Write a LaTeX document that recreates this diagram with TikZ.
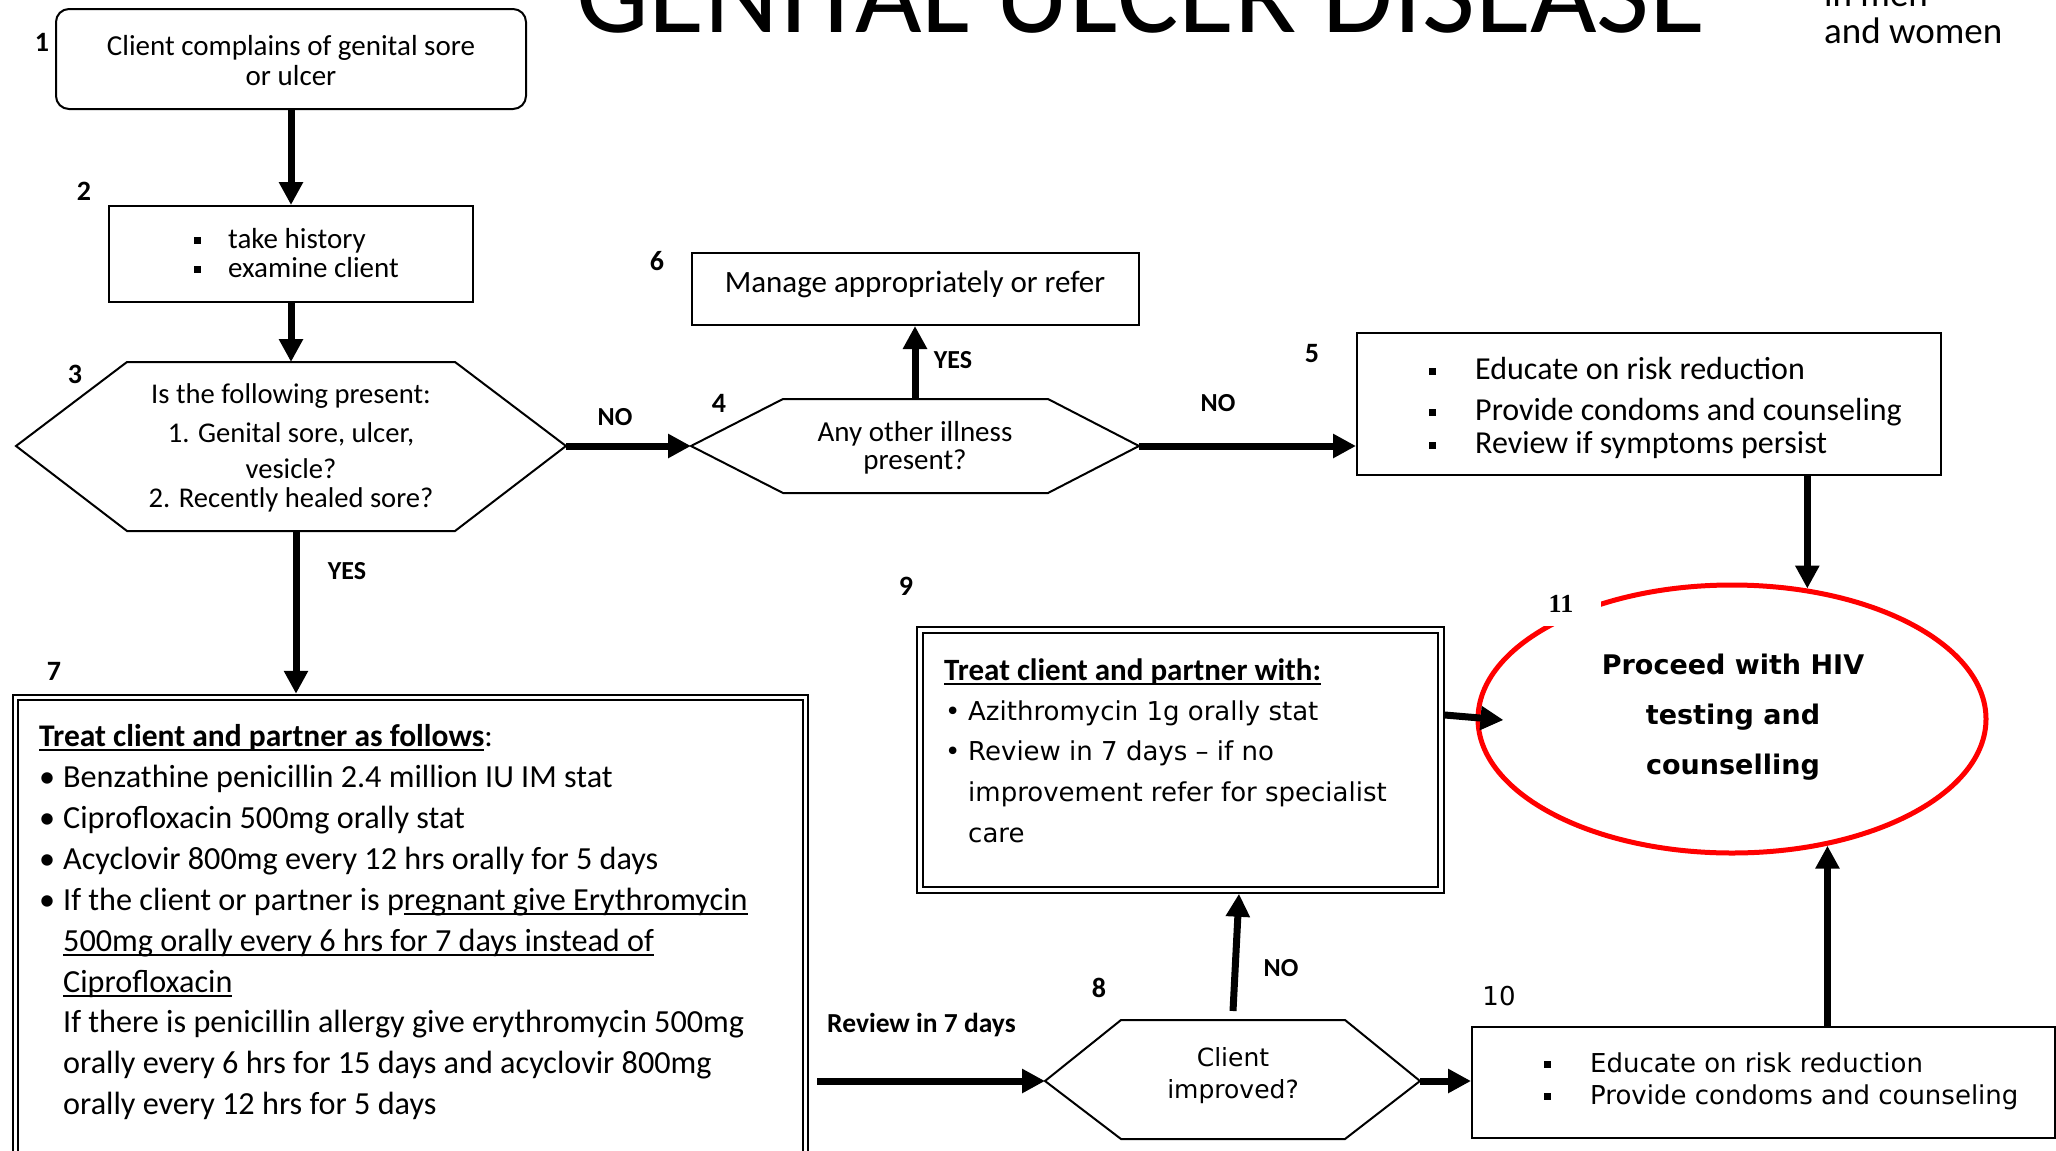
\documentclass[tikz,border=0pt]{standalone}
\usepackage{fontspec}
\setmainfont{Carlito}
\newfontfamily\widesans{DejaVu Sans}
\newfontfamily\serifnum{Liberation Serif}
\usetikzlibrary{arrows.meta,calc,shapes.geometric}

% small square bullet, round bullet with fixed indent, and a low underline
\newcommand\sqbul{\rule[4.5pt]{6.5pt}{6.5pt}}
\newcommand\sqitem[1]{\makebox[#1][l]{\sqbul}}
\newcommand\dotitem[1]{\makebox[#1][l]{\textbullet}}
\newcommand\ulin[1]{{\setbox0=\hbox{#1}\rlap{\rule[-5pt]{\wd0}{2pt}}\box0}}

\begin{document}
\begin{tikzpicture}[x=1pt,y=-1pt,
  box/.style={draw, line width=2pt, inner sep=0pt, outer sep=1pt},
  dbox/.style={draw, line width=2pt, double, double distance=3.5pt, inner sep=0pt, outer sep=3.75pt},
  hexline/.style={line width=2pt, line join=miter},
  flow/.style={line width=7pt, -{Triangle[length=23pt,width=23pt]}},
  txt/.style={inner sep=0pt, anchor=base},
  txtw/.style={inner sep=0pt, anchor=base west},
  num/.style={inner sep=0pt, anchor=base, font=\fontsize{28}{28}\selectfont\bfseries},
  lab/.style={inner sep=0pt, anchor=base, font=\fontsize{26}{26}\selectfont\bfseries},
  f28/.style={font=\fontsize{28.6}{28.6}\selectfont},
  f29/.style={font=\fontsize{29}{29}\selectfont},
  f31/.style={font=\fontsize{31}{31}\selectfont},
  f32/.style={font=\fontsize{32}{32}\selectfont},
  fhead/.style={font=\fontsize{31.5}{31.5}\selectfont},
  fbody/.style={font=\fontsize{32.2}{32.2}\selectfont},
  fwide/.style={font=\fontsize{26}{26}\selectfont\widesans},
]
\useasboundingbox (0,0) rectangle (2056,1151);
\fill[white] (0,0) rectangle (2056,1151);

% ---------- heading ----------
\node[txt, font=\fontsize{115}{115}\selectfont] (title) at (1141,32) {GENITAL ULCER DISEASE};
\node[txtw, font=\fontsize{37}{37}\selectfont] (sub1) at (1824,6) {in men};
\node[txtw, font=\fontsize{37}{37}\selectfont] (sub2) at (1824,43) {and women};

% ---------- 1: complaint ----------
\node[box, rounded corners=13pt, minimum width=470pt, minimum height=100pt] (b1) at (291,59) {};
\node[txt, f29] (t1a) at (291,55) {Client complains of genital sore};
\node[txt, f29] (t1b) at (291,85) {or ulcer};
\node[num] (n1) at (42,51) {1};

% ---------- 2: history ----------
\node[box, minimum width=364pt, minimum height=96pt] (b2) at (291,254) {};
\node[txtw, f29] (t2a) at (194,248) {\sqitem{34pt}take history};
\node[txtw, f29] (t2b) at (194,277) {\sqitem{34pt}examine client};
\node[num] (n2) at (84,200) {2};

% ---------- 3: first decision ----------
\coordinate (h3w) at (16,446);
\coordinate (h3e) at (566,446);
\coordinate (h3n) at (291,362);
\coordinate (h3s) at (296,531);
\draw[hexline] (h3w) -- (127,362) -- (455,362) -- (h3e) -- (455,531) -- (127,531) -- cycle;
\node[txt, f28] (t3a) at (291,403) {Is the following present:};
\node[txt, f28] (t3b) at (291,442) {1. Genital sore, ulcer,};
\node[txt, f28] (t3c) at (291,478) {vesicle?};
\node[txt, f28] (t3d) at (291,507) {2. Recently healed sore?};
\node[num] (n3) at (75,383) {3};

% ---------- 4: second decision ----------
\coordinate (h4w) at (691,446);
\coordinate (h4e) at (1139,446);
\coordinate (h4n) at (915,399);
\draw[hexline] (h4w) -- (783,399) -- (1048,399) -- (h4e) -- (1048,493) -- (783,493) -- cycle;
\node[txt, f29] (t4a) at (915,441) {Any other illness};
\node[txt, f29] (t4b) at (915,469) {present?};
\node[num] (n4) at (719,412) {4};

% ---------- 6: other illness ----------
\node[box, minimum width=447pt, minimum height=72pt] (b6) at (915,289) {};
\node[txt, f31] (t6) at (915,292) {Manage appropriately or refer};
\node[num] (n6) at (657,270) {6};

% ---------- 5: no illness ----------
\node[box, minimum width=584pt, minimum height=142pt] (b5) at (1649,404) {};
\node[txtw, f32] (t5a) at (1429,379) {\sqitem{46pt}Educate on risk reduction};
\node[txtw, f32] (t5b) at (1429,420) {\sqitem{46pt}Provide condoms and counseling};
\node[txtw, f32] (t5c) at (1429,453) {\sqitem{46pt}Review if symptoms persist};
\node[num] (n5) at (1312,362) {5};

% ---------- 7: treatment ----------
\node[dbox, minimum width=790pt, minimum height=508pt] (b7) at (410.5,951.5) {};
\node[txtw, fhead] (t7a) at (39,746) {\ulin{\bfseries Treat client and partner as follows}:};
\node[txtw, fbody] (t7b) at (39,787) {\dotitem{24pt}Benzathine penicillin 2.4 million IU IM stat};
\node[txtw, fbody] (t7c) at (39,828) {\dotitem{24pt}Ciprofloxacin 500mg orally stat};
\node[txtw, fbody] (t7d) at (39,869) {\dotitem{24pt}Acyclovir 800mg every 12 hrs orally for 5 days};
\node[txtw, fbody] (t7e) at (39,910) {\dotitem{24pt}If the client or partner is p\ulin{regnant give Erythromycin}};
\node[txtw, fbody] (t7f) at (63,951) {\ulin{500mg orally every 6 hrs for 7 days instead of}};
\node[txtw, fbody] (t7g) at (63,992) {\ulin{Ciprofloxacin}};
\node[txtw, fbody] (t7h) at (63,1032) {If there is penicillin allergy give erythromycin 500mg};
\node[txtw, fbody] (t7i) at (63,1073) {orally every 6 hrs for 15 days and acyclovir 800mg};
\node[txtw, fbody] (t7j) at (63,1114) {orally every 12 hrs for 5 days};
\node[num] (n7) at (54,680) {7};

% ---------- 8: review ----------
\coordinate (h8w) at (1045,1081);
\coordinate (h8e) at (1420,1081);
\coordinate (h8up) at (1233,1011);
\draw[hexline] (h8w) -- (1121,1020) -- (1345,1020) -- (h8e) -- (1345,1139) -- (1121,1139) -- cycle;
\node[txt, font=\fontsize{25}{25}\selectfont\widesans] (t8a) at (1233,1066) {Client};
\node[txt, font=\fontsize{25}{25}\selectfont\widesans] (t8b) at (1233,1098) {improved?};
\node[num] (n8) at (1099,997) {8};

% ---------- 9: second-line treatment ----------
\node[dbox, minimum width=521pt, minimum height=260pt] (b9) at (1180.5,760) {};
\node[txtw, f31] (t9a) at (944,680) {\ulin{\bfseries Treat client and partner with:}};
\node[txtw, fwide] (t9b) at (945,720) {\dotitem{23pt}Azithromycin 1g orally stat};
\node[txtw, fwide] (t9c) at (945,760) {\dotitem{23pt}Review in 7 days – if no};
\node[txtw, fwide] (t9d) at (968,801) {improvement refer for specialist};
\node[txtw, fwide] (t9e) at (968,842) {care};
\node[num] (n9) at (906,595) {9};

% ---------- 10: improved ----------
\node[box, minimum width=583pt, minimum height=111pt] (b10) at (1763.5,1082.5) {};
\node[txtw, fwide] (t10a) at (1544,1072) {\sqitem{46pt}Educate on risk reduction};
\node[txtw, fwide] (t10b) at (1544,1104) {\sqitem{46pt}Provide condoms and counseling};
\node[txt, fwide] (n10) at (1499,1005) {10};

% ---------- 11: HIV testing ----------
\node[ellipse, draw=red, line width=5pt, minimum width=508pt, minimum height=268pt, inner sep=0pt] (n11) at (1732,719) {};
\fill[white] (1540,584) rectangle (1601,626);
\node[txt, font=\fontsize{26}{26}\selectfont\serifnum\bfseries] (l11) at (1561,612) {11};
\node[txt, font=\fontsize{27}{27}\selectfont\widesans\bfseries] (t11a) at (1733,674) {Proceed with HIV};
\node[txt, font=\fontsize{27}{27}\selectfont\widesans\bfseries] (t11b) at (1733,724) {testing and};
\node[txt, font=\fontsize{27}{27}\selectfont\widesans\bfseries] (t11c) at (1733,774) {counselling};

% ---------- connectors ----------
\draw[flow] (b1) -- (b2);
\draw[flow] (b2) -- (h3n);
\draw[flow] (h3e) -- (h4w);
\draw[flow] (h4n) -- (b6);
\draw[flow] (h4e) -- (h4e -| b5.west);
\draw[flow] (h3s) -- (h3s |- b7.north);
\coordinate (r7) at ($(b7.east |- h8w)+(8,0)$);
\draw[flow] (r7) -- (h8w);
\draw[flow] (h8up) -- ([xshift=58.5pt]b9.south);
\draw[flow] (h8e) -- (h8e -| b10.west);
\draw[flow] ([yshift=45pt]b9.east) -- ([xshift=28pt,yshift=-1pt]n11.west);
\draw[flow] (n11.60 |- b5.south) -- (n11.60);
\draw[flow] (n11.-53 |- b10.north) -- (n11.-53);

% ---------- branch labels ----------
\node[lab] (no34) at (615,425) {NO};
\node[lab] (yes37) at (347,579) {YES};
\node[lab] (yes46) at (953,368) {YES};
\node[lab] (no45) at (1218,411) {NO};
\node[lab] (no89) at (1281,976) {NO};
\node[inner sep=0pt, anchor=base west, font=\fontsize{27.5}{27.5}\selectfont\bfseries] (rev) at (827,1032) {Review in 7 days};
\end{tikzpicture}
\end{document}
